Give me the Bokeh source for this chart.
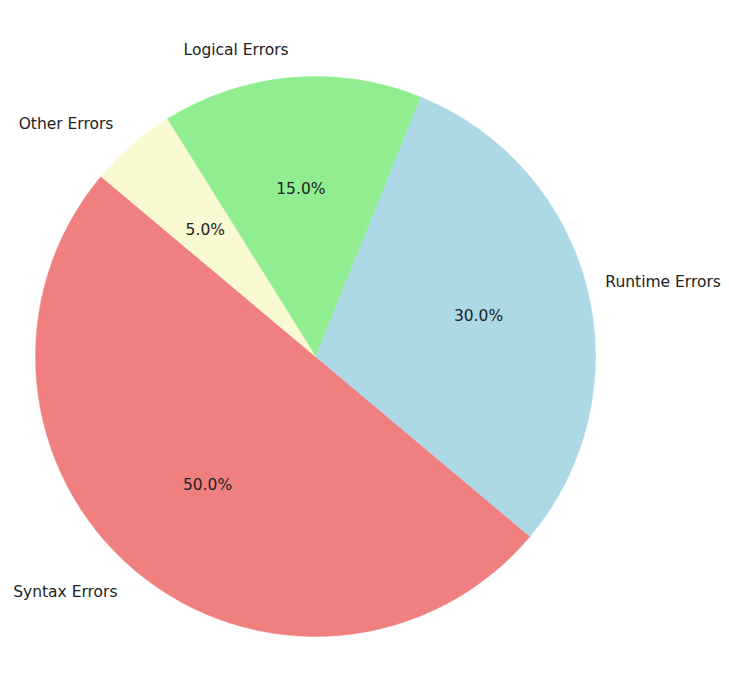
import math
from bokeh.plotting import figure
from bokeh.models import Range1d, ColumnDataSource
from bokeh.core.properties import value
from bokeh.embed import file_html
from bokeh.resources import INLINE

categories = ["Syntax Errors", "Runtime Errors", "Logical Errors", "Other Errors"]
values = [50, 30, 15, 5]
colors = ["#F08080", "#ADD8E6", "#90EE90", "#FAFAD2"]
start_deg = 140

W, H = 721, 670
R = 280
cx_px, cy_px = 315, 356  # pie centre in picture pixels
off = 0

p = figure(width=W, height=H, output_backend="svg", toolbar_location=None,
           x_range=Range1d(off - cx_px, off - cx_px + W),
           y_range=Range1d(cy_px - off - H, cy_px - off),
           min_border=0)
p.axis.visible = False
p.grid.visible = False
p.outline_line_color = None
p.background_fill_color = "white"
p.border_fill_color = "white"

total = sum(values)
starts, ends, mids = [], [], []
a = math.radians(start_deg)
for v in values:
    d = 2 * math.pi * v / total
    starts.append(a)
    ends.append(a + d)
    mids.append(a + d / 2)
    a += d

src = ColumnDataSource(dict(start=starts, end=ends, color=colors))
p.wedge(x=0, y=0, radius=R, start_angle="start", end_angle="end",
        fill_color="color", line_color="color", line_width=0.5, source=src)

lx, ly, lalign, lxo = [], [], [], []
px, py, ptxt = [], [], []
for m, v, c in zip(mids, values, categories):
    lx.append(1.1 * R * math.cos(m))
    ly.append(1.1 * R * math.sin(m))
    right = math.cos(m) > 0
    lalign.append("left" if right else "right")
    lxo.append(-9 if right else 0)  # keep the right-hand label inside the page
    px.append(0.6 * R * math.cos(m))
    py.append(0.6 * R * math.sin(m))
    ptxt.append(f"{100 * v / total:.1f}%")

lsrc = ColumnDataSource(dict(x=lx, y=ly, t=categories, a=lalign, xo=lxo))
p.text(x="x", y="y", text="t", text_align="a", text_baseline="middle",
       x_offset="xo",
       text_font=value("DejaVu Sans"), text_font_size="15.5px",
       text_color="#222222", source=lsrc)

psrc = ColumnDataSource(dict(x=px, y=py, t=ptxt))
p.text(x="x", y="y", text="t", text_align="center", text_baseline="middle",
       text_font=value("DejaVu Sans"), text_font_size="15.5px",
       text_color="#222222", source=psrc)

open("out.html", "w").write(file_html(p, INLINE))
